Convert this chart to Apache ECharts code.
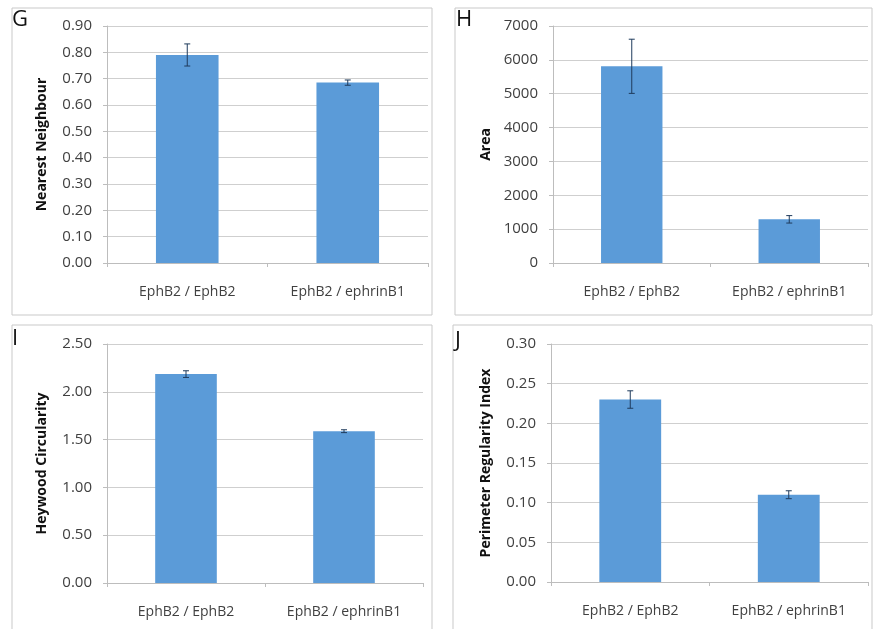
<!DOCTYPE html>
<html><head><meta charset="utf-8">
<script src="https://cdn.jsdelivr.net/npm/echarts@6/dist/echarts.min.js"></script>
<style>html,body{margin:0;padding:0;background:#fff}#c{width:874px;height:629px}</style>
</head><body><div id="c"></div>
<script>
const categories = ['EphB2 / EphB2', 'EphB2 / ephrinB1'];
const nnMean = [0.79, 0.685];
const nnErr = [0.042, 0.01];
const areaMean = [5810, 1290];
const areaErr = [800, 110];
const heyMean = [2.185, 1.588];
const heyErr = [0.035, 0.015];
const priMean = [0.23, 0.11];
const priErr = [0.011, 0.005];
const panelLetters = ['G', 'H', 'I', 'J'];
const axisNames = ['Nearest Neighbour', 'Area', 'Heywood Circularity', 'Perimeter Regularity Index'];

const FONT = 'Open Sans';
const BAR = '#5b9bd8';
const ERR = '#1f3b5c';
const GRID = '#cfcfcf';
const TXT = '#404040';

const panels = [
  {mean: nnMean, err: nnErr, max: 0.9, interval: 0.1, dec: 2, grid: {left: 107, top: 26, width: 321, height: 237}, gap: 58},
  {mean: areaMean, err: areaErr, max: 7000, interval: 1000, dec: 0, grid: {left: 553, top: 26, width: 315, height: 237}, gap: 60},
  {mean: heyMean, err: heyErr, max: 2.5, interval: 0.5, dec: 2, grid: {left: 107, top: 344, width: 316, height: 239}, gap: 58},
  {mean: priMean, err: priErr, max: 0.3, interval: 0.05, dec: 2, grid: {left: 551, top: 344, width: 317, height: 238}, gap: 58}
];

const grids = [], xAxes = [], yAxes = [], series = [];
panels.forEach((p, i) => {
  grids.push(Object.assign({containLabel: false}, p.grid));
  xAxes.push({
    type: 'category', gridIndex: i, data: categories,
    axisLine: {lineStyle: {color: '#bdbdbd', width: 1}},
    axisTick: {show: true, length: 4, lineStyle: {color: '#bdbdbd'}},
    axisLabel: {color: TXT, fontFamily: FONT, fontSize: 14, margin: 22}
  });
  yAxes.push({
    type: 'value', gridIndex: i, min: 0, max: p.max, interval: p.interval,
    name: axisNames[i], nameLocation: 'middle', nameGap: p.gap, nameRotate: 90,
    nameTextStyle: {color: '#111', fontFamily: FONT, fontSize: 14, fontWeight: 'bold'},
    axisLine: {show: true, lineStyle: {color: '#bdbdbd'}},
    axisTick: {show: true, length: 4, lineStyle: {color: '#bdbdbd'}},
    splitLine: {show: true, lineStyle: {color: GRID, width: 1}},
    axisLabel: {color: TXT, fontFamily: FONT, fontSize: 15, margin: 15,
      formatter: v => v.toFixed(p.dec)}
  });
  series.push({
    type: 'bar', xAxisIndex: i, yAxisIndex: i, data: p.mean, barWidth: '39%',
    itemStyle: {color: BAR}, silent: true
  });
  series.push({
    type: 'custom', xAxisIndex: i, yAxisIndex: i, silent: true, z: 5,
    data: p.mean.map((m, k) => [k, m - p.err[k], m + p.err[k]]),
    renderItem: (params, api) => {
      const x = api.value(0);
      const lo = api.coord([x, api.value(1)]);
      const hi = api.coord([x, api.value(2)]);
      const w = 3;
      const st = {stroke: ERR, lineWidth: 1};
      return {type: 'group', children: [
        {type: 'line', shape: {x1: lo[0], y1: lo[1], x2: hi[0], y2: hi[1]}, style: st},
        {type: 'line', shape: {x1: lo[0] - w, y1: lo[1], x2: lo[0] + w, y2: lo[1]}, style: st},
        {type: 'line', shape: {x1: hi[0] - w, y1: hi[1], x2: hi[0] + w, y2: hi[1]}, style: st}
      ]};
    }
  });
});

const boxes = [[12, 8, 420, 307], [455, 8, 417, 307], [12, 325, 420, 310], [453, 325, 419, 310]];
const letterPos = [[12, 9], [456, 9], [12, 328], [455, 330]];
const graphic = [];
boxes.forEach((b, i) => {
  graphic.push({type: 'rect', shape: {x: b[0], y: b[1], width: b[2], height: b[3]},
    style: {fill: 'none', stroke: '#c9c9c9', lineWidth: 1}, z: -1, silent: true});
  graphic.push({type: 'text', x: letterPos[i][0], y: letterPos[i][1],
    style: {text: panelLetters[i], fill: '#111', font: '22px "' + FONT + '"'}, silent: true});
});

const chart = echarts.init(document.getElementById('c'), null, {renderer: 'canvas'});
chart.setOption({
  animation: false,
  grid: grids, xAxis: xAxes, yAxis: yAxes, series: series, graphic: graphic
});
</script></body></html>
